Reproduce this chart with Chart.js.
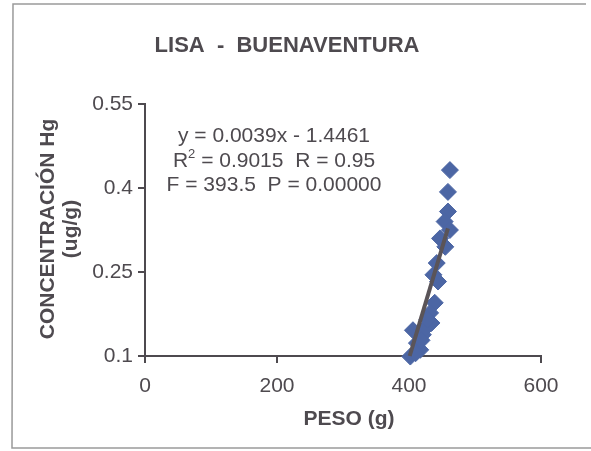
<!DOCTYPE html>
<html>
<head>
<meta charset="utf-8">
<script src="https://cdn.jsdelivr.net/npm/chart.js@4.4.1/dist/chart.umd.min.js"></script>
<style>
  html, body { margin: 0; padding: 0; background: #fff; }
  #wrap { width: 591px; height: 451px; }
</style>
</head>
<body>
<div id="wrap"><canvas id="myChart" width="591" height="451"></canvas></div>
<script>
// peso (g) vs concentracion Hg (ug/g)
const peso = [462, 459, 459, 454, 462, 447, 455, 442, 437, 444, 439, 432, 434, 406, 421, 412, 402, 417, 425, 428, 410, 419];
const hg   = [0.432, 0.393, 0.358, 0.340, 0.325, 0.310, 0.295, 0.266, 0.245, 0.233, 0.195, 0.177, 0.159, 0.146, 0.138, 0.123, 0.099, 0.111, 0.150, 0.165, 0.105, 0.128];

// fitted line as drawn in the picture (y = 0.0039x - 1.4461)
const trendX = [401, 459];
const trendY = [0.100, 0.328];

const xTicks = [0, 200, 400, 600];
const yTicks = [0.1, 0.25, 0.4, 0.55];

const titleText = "LISA  -  BUENAVENTURA";
const xTitle = "PESO (g)";
const yTitle = ["CONCENTRACIÓN Hg", "(ug/g)"];
const statLines = ["y = 0.0039x - 1.4461", null, "F = 393.5  P = 0.00000"];

const ink = "#4e4a4f";
const font = "'Liberation Sans', Arial, sans-serif";

const textPlugin = {
  id: "texts",
  afterDraw(chart) {
    const ctx = chart.ctx;
    const area = chart.chartArea;
    ctx.save();
    ctx.fillStyle = ink;
    ctx.textBaseline = "middle";
    ctx.textAlign = "center";

    // frame (no right edge in the scan)
    ctx.strokeStyle = "#9a9a9a";
    ctx.lineWidth = 1.5;
    ctx.beginPath();
    ctx.moveTo(586, 4);
    ctx.lineTo(13, 4);
    ctx.lineTo(12, 448);
    ctx.lineTo(591, 448);
    ctx.stroke();

    // title
    ctx.font = "bold 22px " + font;
    ctx.fillText(titleText, 287, 46);

    // x title
    ctx.font = "bold 21px " + font;
    ctx.fillText(xTitle, (area.left + area.right) / 2 + 6, 419);

    // y title (rotated, two lines)
    ctx.save();
    ctx.translate(48, 229);
    ctx.rotate(-Math.PI / 2);
    ctx.fillText(yTitle[0], 0, 0);
    ctx.fillText(yTitle[1], 0, 23);
    ctx.restore();

    // stats box
    ctx.font = "21px " + font;
    const cx = 274;
    ctx.fillText(statLines[0], cx, 136);
    ctx.fillText(statLines[2], cx, 185);
    // R² line with superscript
    const a = "R", sup = "2", b = " = 0.9015  R = 0.95";
    const wa = ctx.measureText(a).width;
    const wb = ctx.measureText(b).width;
    ctx.font = "13px " + font;
    const ws = ctx.measureText(sup).width;
    const x0 = cx - (wa + ws + wb) / 2;
    ctx.textAlign = "left";
    ctx.font = "21px " + font;
    ctx.fillText(a, x0, 161);
    ctx.font = "13px " + font;
    ctx.fillText(sup, x0 + wa, 154);
    ctx.font = "21px " + font;
    ctx.fillText(b, x0 + wa + ws, 161);
    ctx.restore();
  }
};

const ctx = document.getElementById("myChart");
new Chart(ctx, {
  type: "scatter",
  plugins: [textPlugin],
  data: {
    datasets: [
      {
        label: "Hg",
        data: peso.map((p, i) => ({ x: p, y: hg[i] })),
        pointStyle: "rectRot",
        pointRadius: 8.5,
        pointBackgroundColor: "#4c66a4",
        pointBorderColor: "#4c66a4",
        clip: false,
        order: 2
      },
      {
        label: "Tendencia",
        data: trendX.map((x, i) => ({ x: x, y: trendY[i] })),
        showLine: true,
        borderColor: "#5a5458",
        borderWidth: 4,
        pointRadius: 0,
        clip: false,
        order: 1
      }
    ]
  },
  options: {
    responsive: false,
    animation: false,
    layout: { padding: { top: 104, right: 50, bottom: 0, left: 0 } },
    plugins: {
      legend: { display: false },
      tooltip: { enabled: false }
    },
    scales: {
      x: {
        type: "linear",
        min: 0,
        max: 600,
        afterFit: s => { s.height = 95; },
        afterBuildTicks: s => { s.ticks = xTicks.map(v => ({ value: v })); },
        grid: { drawOnChartArea: false, drawTicks: true, tickLength: 7, color: ink, lineWidth: 2 },
        border: { color: ink, width: 2 },
        ticks: { color: ink, padding: 11, maxRotation: 0, font: { family: font, size: 21 } }
      },
      y: {
        type: "linear",
        min: 0.1,
        max: 0.55,
        afterFit: s => { s.width = 145; },
        afterBuildTicks: s => { s.ticks = yTicks.map(v => ({ value: v })); },
        grid: { drawOnChartArea: false, drawTicks: true, tickLength: 7, color: ink, lineWidth: 2 },
        border: { color: ink, width: 2 },
        ticks: {
          color: ink,
          padding: 5,
          font: { family: font, size: 21 },
          callback: v => String(Math.round(v * 100) / 100)
        }
      }
    }
  }
});
</script>
</body>
</html>
